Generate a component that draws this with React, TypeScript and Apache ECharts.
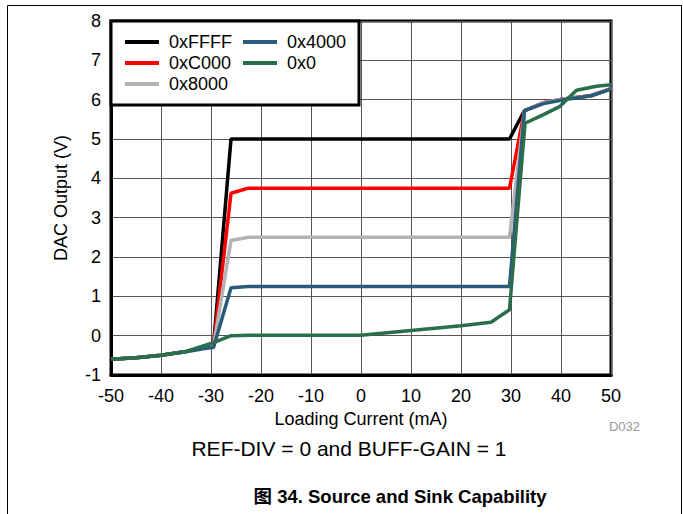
import React, { useEffect, useRef } from "react";
import * as echarts from "echarts";

const xTicks = [-50, -40, -30, -20, -10, 0, 10, 20, 30, 40, 50];
const yTicks = [-1, 0, 1, 2, 3, 4, 5, 6, 7, 8];

const codeFFFF: [number, number][] = [
  [-50, -0.6], [-45, -0.56], [-40, -0.5], [-35, -0.4], [-31, -0.29], [-29.5, -0.25],
  [-26, 5], [-22, 5], [0, 5], [29.7, 5], [32.7, 5.72], [36.5, 5.92], [40.5, 6.02], [46, 6.1], [50, 6.28],
];
const codeC000: [number, number][] = [
  [-50, -0.6], [-45, -0.56], [-40, -0.5], [-35, -0.4], [-31, -0.29], [-29.5, -0.26],
  [-26, 3.62], [-22.5, 3.75], [0, 3.75], [29.7, 3.75], [32.7, 5.72], [36.5, 5.92], [40.5, 6.02], [46, 6.1], [50, 6.28],
];
const code8000: [number, number][] = [
  [-50, -0.6], [-45, -0.56], [-40, -0.5], [-35, -0.4], [-31, -0.29], [-29.5, -0.27],
  [-26, 2.42], [-22.5, 2.5], [0, 2.5], [29.7, 2.5], [32.7, 5.72], [36.5, 5.92], [40.5, 6.02], [46, 6.1], [50, 6.28],
];
const code4000: [number, number][] = [
  [-50, -0.6], [-45, -0.56], [-40, -0.5], [-35, -0.41], [-31, -0.32], [-29.5, -0.3],
  [-26, 1.22], [-22.5, 1.25], [0, 1.25], [29.7, 1.25], [32.7, 5.72], [36.5, 5.9], [40.5, 6.0], [46, 6.1], [50, 6.27],
];
const code0: [number, number][] = [
  [-50, -0.6], [-45, -0.56], [-40, -0.5], [-35, -0.4], [-30, -0.2], [-26, 0],
  [-22.5, 0.01], [0, 0.01], [10, 0.13], [20, 0.25], [26, 0.34], [29.7, 0.66], [32.8, 5.4],
  [36.5, 5.62], [39.8, 5.83], [43.1, 6.24], [47.1, 6.34], [50, 6.38],
];

const seriesNames = ["0xFFFF", "0xC000", "0x8000", "0x4000", "0x0"];
const seriesData = [codeFFFF, codeC000, code8000, code4000, code0];
const seriesColors = ["#000000", "#ff0000", "#b3b3b3", "#2b5b7a", "#2b6e4b"];

const FONT = "'Liberation Sans', Arial, sans-serif";

export default function App() {
  const ref = useRef<HTMLDivElement>(null);
  useEffect(() => {
    if (!ref.current) return;
    const chart = echarts.init(ref.current, null, { renderer: "svg" });
    const legendCommon = {
      orient: "vertical" as const,
      icon: "rect",
      itemWidth: 34,
      itemHeight: 4,
      itemGap: 3,
      padding: 0,
      selectedMode: false,
      z: 6,
      textStyle: { fontSize: 18, color: "#000", fontFamily: FONT, lineHeight: 18, padding: [0, 0, 0, 5] },
    };
    chart.setOption({
      animation: false,
      backgroundColor: "#fff",
      textStyle: { fontFamily: FONT },
      grid: {
        left: 111,
        right: 72,
        top: 21,
        bottom: 139,
        show: true,
        borderColor: "#000",
        borderWidth: 3,
        containLabel: false,
      },
      legend: [
        { ...legendCommon, data: seriesNames.slice(0, 3), left: 125, top: 33 },
        { ...legendCommon, data: seriesNames.slice(3), left: 243, top: 33 },
      ],
      xAxis: {
        type: "value",
        min: xTicks[0],
        max: xTicks[xTicks.length - 1],
        interval: 10,
        name: "Loading Current (mA)",
        nameLocation: "middle",
        nameGap: 32,
        nameTextStyle: { fontSize: 18, color: "#000", fontFamily: FONT },
        axisLine: { show: true, onZero: false, lineStyle: { color: "#000", width: 3 } },
        axisTick: { show: false },
        axisLabel: { fontSize: 18, color: "#000", margin: 12, fontFamily: FONT },
        splitLine: { show: true, lineStyle: { color: "#555", width: 1 } },
      },
      yAxis: {
        type: "value",
        min: yTicks[0],
        max: yTicks[yTicks.length - 1],
        interval: 1,
        name: "DAC Output (V)",
        nameLocation: "middle",
        nameGap: 41,
        nameTextStyle: { fontSize: 18, color: "#000", fontFamily: FONT },
        axisLine: { show: true, onZero: false, lineStyle: { color: "#000", width: 3 } },
        axisTick: { show: false },
        axisLabel: { fontSize: 18, color: "#000", margin: 10, fontFamily: FONT },
        splitLine: { show: true, lineStyle: { color: "#555", width: 1 } },
      },
      series: seriesNames.map((name, i) => ({
        name,
        type: "line",
        data: seriesData[i],
        showSymbol: false,
        symbol: "none",
        z: 2,
        lineStyle: { color: seriesColors[i], width: 3.5 },
        itemStyle: { color: seriesColors[i] },
      })),
      graphic: [
        {
          type: "rect",
          z: 1,
          silent: true,
          shape: { x: 7.5, y: 5.5, width: 674, height: 520 },
          style: { fill: "none", stroke: "#000", lineWidth: 1 },
        },
        {
          type: "rect",
          z: 5,
          silent: true,
          shape: { x: 111, y: 21, width: 248, height: 84 },
          style: { fill: "#fff", stroke: "#000", lineWidth: 3 },
        },
        {
          type: "text",
          x: 640,
          y: 426,
          style: { text: "D032", fill: "#999", fontSize: 13, fontFamily: FONT, align: "right", verticalAlign: "middle" },
        },
        {
          type: "text",
          x: 349,
          y: 448,
          style: { text: "REF-DIV = 0 and BUFF-GAIN = 1", fill: "#000", fontSize: 21, fontFamily: FONT, align: "center", verticalAlign: "middle" },
        },
        {
          type: "text",
          x: 400,
          y: 496,
          style: { text: "图 34. Source and Sink Capability", fill: "#000", fontSize: 18.5, fontWeight: "bold", fontFamily: FONT + ", 'Noto Sans CJK SC'", align: "center", verticalAlign: "middle" },
        },
      ],
    });
    return () => chart.dispose();
  }, []);
  return (
    <div
      ref={ref}
      style={{ position: "fixed", left: 0, top: 0, width: 683, height: 514 }}
    />
  );
}
